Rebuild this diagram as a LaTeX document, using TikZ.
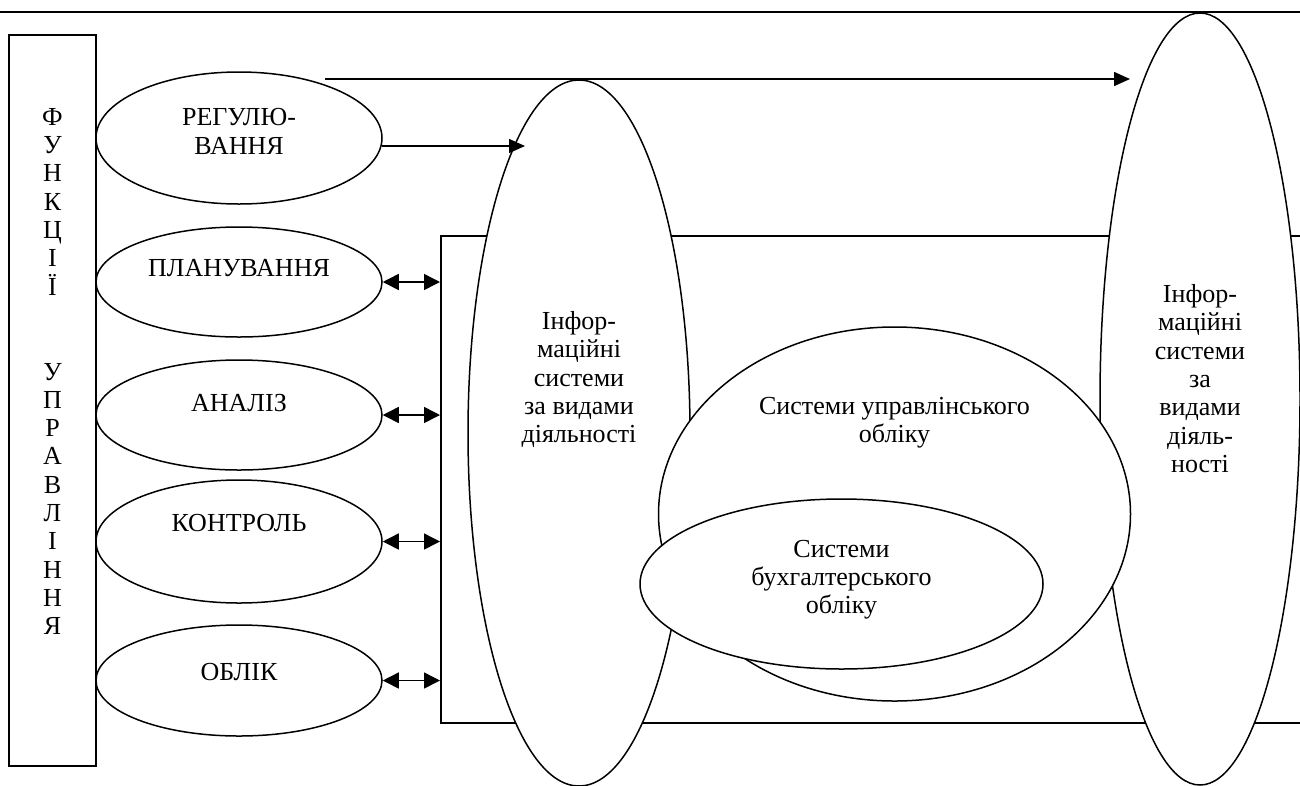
\documentclass[tikz,border=0pt]{standalone}
\usepackage{fontspec}
\setmainfont{Liberation Serif}
\usetikzlibrary{arrows.meta,shapes.geometric}
\begin{document}
\begin{tikzpicture}[x=1pt,y=-1pt,
  line width=1.5pt,
  oval/.style={draw, ellipse, fill=white, inner sep=0pt},
  frame/.style={draw, rectangle, inner sep=0pt},
  lbl/.style={font=\fontsize{26}{28.3}\selectfont, align=center, inner sep=0pt},
  link/.style={-{Triangle[length=16pt,width=14pt]}},
  dlink/.style={{Triangle[length=16pt,width=16pt]}-{Triangle[length=16pt,width=16pt]}}]
\useasboundingbox (0,0) rectangle (1300,785);
\clip (0,0) rectangle (1300,785);

% rule across the top
\coordinate (tl) at (0,12);
\coordinate (tr) at (1300,12);
\draw (tl) -- (tr);

% column of management functions
\node[frame, minimum width=87pt, minimum height=731pt] (fn) at (52.5,400.5) {};
\node[lbl] (fntxt) at (52.5,371.5)
  {Ф\\У\\Н\\К\\Ц\\І\\Ї\\\mbox{}\\\mbox{}\\У\\П\\Р\\А\\В\\Л\\І\\Н\\Н\\Я};

% function ovals
\node[oval, minimum width=286pt, minimum height=132pt] (reg)  at (239,138) {};
\node[oval, minimum width=286pt, minimum height=110pt] (plan) at (239,282) {};
\node[oval, minimum width=286pt, minimum height=110pt] (anal) at (239,415) {};
\node[oval, minimum width=286pt, minimum height=123pt] (ctrl) at (239,541.5) {};
\node[oval, minimum width=286pt, minimum height=111pt] (acc)  at (239,680.5) {};
\node[lbl] (regtxt)  at (239,131.5) {РЕГУЛЮ-\\ВАННЯ};
\node[lbl] (plantxt) at (239,268) {ПЛАНУВАННЯ};
\node[lbl] (analtxt) at (239,403) {АНАЛІЗ};
\node[lbl] (ctrltxt) at (239,523) {КОНТРОЛЬ};
\node[lbl] (acctxt)  at (239,672) {ОБЛІК};

% open frame of the information systems
\node[frame, anchor=north west, minimum width=900pt, minimum height=487pt] (box) at (440,235) {};

% information system ovals
\node[oval, minimum width=222pt, minimum height=706pt] (mid)   at (579,433) {};
\node[oval, minimum width=200pt, minimum height=772pt] (right) at (1200,399) {};
\node[oval, minimum width=472pt, minimum height=374pt] (mgmt)  at (894.5,514) {};
\node[oval, minimum width=403pt, minimum height=170pt] (bk)    at (841.5,584) {};

\node[lbl] (midtxt)   at (579,379.5) {Інфор-\\маційні\\системи\\за видами\\діяльності};
\node[lbl] (righttxt) at (1200,378.5) {Інфор-\\маційні\\системи\\за\\видами\\діяль-\\ності};
\node[lbl] (mgmttxt)  at (894.5,422.5) {Системи управлінського\\обліку};
\node[lbl] (bktxt)    at (841.5,579.5) {Системи\\бухгалтерського\\обліку};

% connectors
\coordinate (a1) at (325,79);
\coordinate (a2) at (1130,79);
\draw[link] (a1) -- (a2);
\coordinate (r1) at (382,146);
\coordinate (r2) at (525,146);
\draw[link] (r1) -- (r2);
\draw[dlink] (plan.east) -- (plan.east -| box.west);
\draw[dlink] (anal.east) -- (anal.east -| box.west);
\draw[dlink] (ctrl.east) -- (ctrl.east -| box.west);
\draw[dlink] (acc.east)  -- (acc.east  -| box.west);
\end{tikzpicture}
\end{document}
